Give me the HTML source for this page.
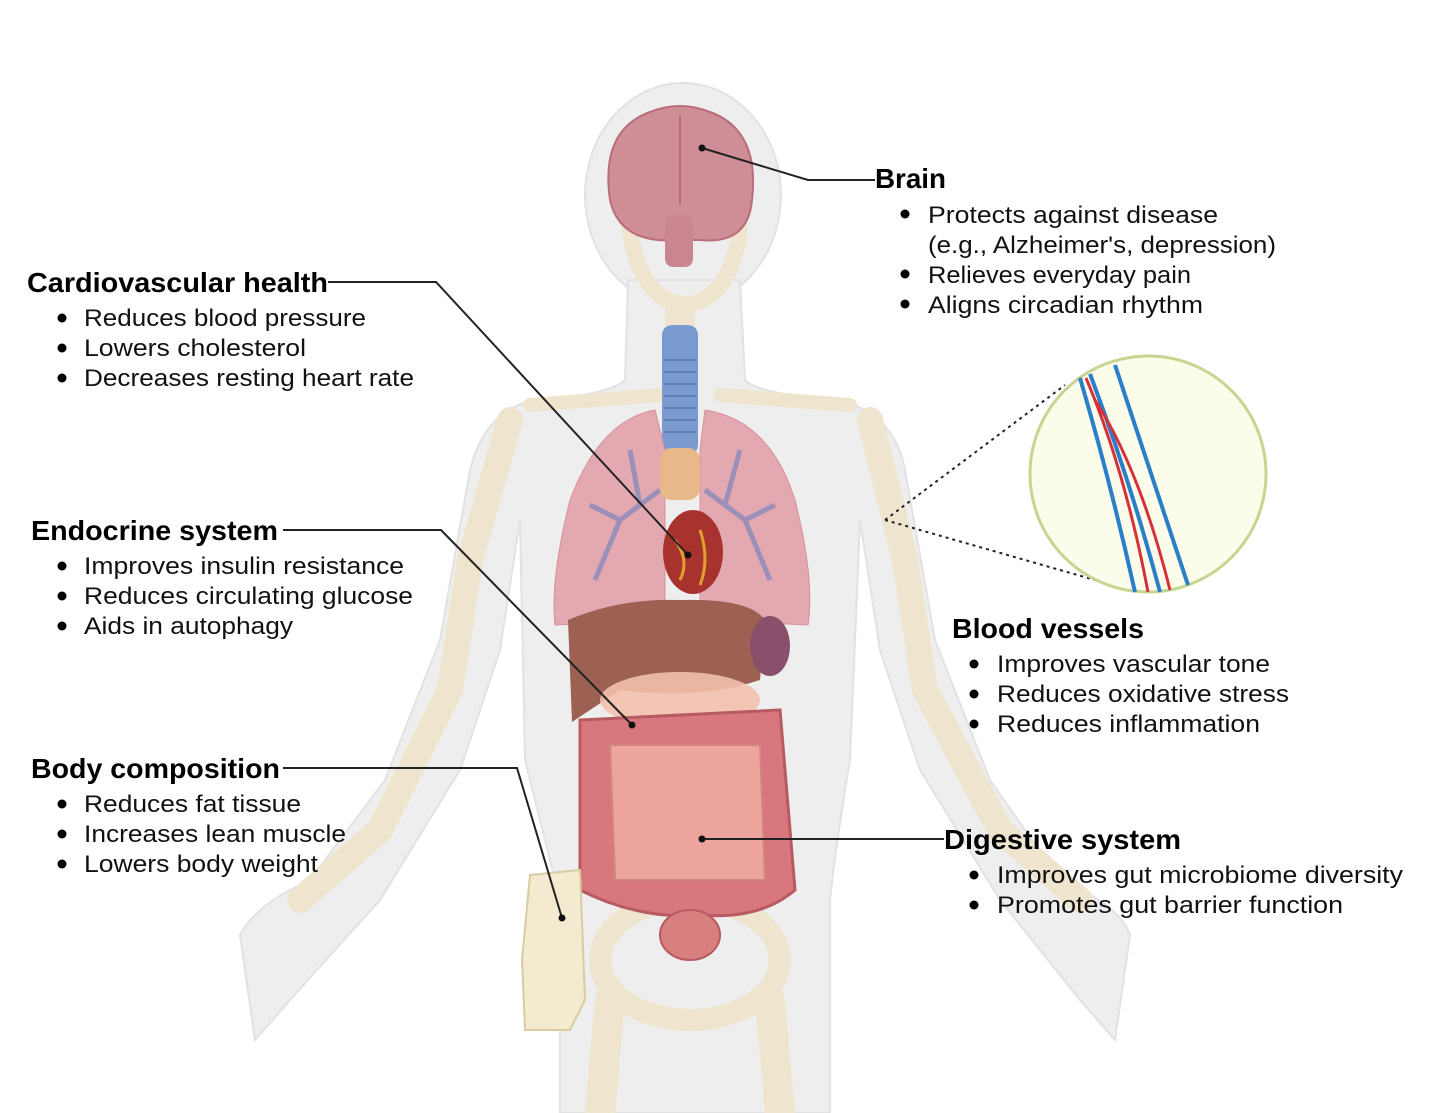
<!DOCTYPE html>
<html><head><meta charset="utf-8"><style>
body{margin:0;background:#fff;}
svg{display:block;}
.h{font:bold 28px "Liberation Sans",sans-serif;fill:#000;}
.t{font:24px "Liberation Sans",sans-serif;fill:#111;}
</style></head><body>
<svg width="1430" height="1113" viewBox="0 0 1430 1113" xmlns="http://www.w3.org/2000/svg">
<g fill="#eeeeee" stroke="#e2e2e2" stroke-width="2">
<ellipse cx="683" cy="195" rx="98" ry="112"/>
<path d="M628 280 L740 280 L745 380 Q760 395 840 400 Q895 415 905 470 L935 640 L990 780 L1060 880 Q1120 905 1130 935 L1115 1040 L1080 1000 L1000 900 L920 770 L880 650 L860 520 L850 760 Q835 850 830 900 L830 1113 L560 1113 L560 900 Q540 820 525 760 L520 520 L500 650 L460 770 L380 900 L290 1000 L255 1040 L240 935 Q255 905 310 880 L385 780 L440 640 L470 470 Q485 410 535 400 Q610 395 625 380 Z"/>
</g>
<g stroke="#efe5cf" stroke-linecap="round" fill="none">
<path d="M510 420 L470 560 L450 690 L380 830 L300 900" stroke-width="26"/>
<path d="M870 420 L905 560 L925 690 L1000 830 L1080 900" stroke-width="26"/>
<path d="M530 405 L660 395 M720 395 L850 405" stroke-width="14"/>
<path d="M610 1000 L600 1113 M770 1000 L780 1113" stroke-width="30"/>
<ellipse cx="690" cy="960" rx="90" ry="60" stroke-width="22"/>
<path d="M630 230 Q640 300 685 305 Q730 300 740 230" stroke-width="16"/>
<path d="M680 310 L680 470" stroke-width="30"/>
</g>
<path d="M610 200 Q600 130 650 112 Q680 100 710 112 Q760 130 752 200 Q748 245 700 240 L680 240 Q620 245 610 200 Z" fill="#cf8d96" stroke="#b86e7a" stroke-width="2"/>
<path d="M680 115 L680 205" stroke="#b86e7a" stroke-width="2"/>
<rect x="665" y="215" width="28" height="52" rx="8" fill="#c98690"/>
<rect x="662" y="325" width="36" height="130" rx="10" fill="#7b9bd0"/>
<g stroke="#5e7fb5" stroke-width="2"><path d="M664 360h32M664 372h32M664 384h32M664 396h32M664 408h32M664 420h32M664 432h32"/></g>
<path d="M655 410 Q600 420 570 500 Q550 580 555 625 L665 620 L665 450 Z" fill="#e4a8b0" stroke="#d4909a"/>
<path d="M705 410 Q770 420 795 500 Q815 580 808 625 L700 620 L700 450 Z" fill="#e4a8b0" stroke="#d4909a"/>
<g stroke="#9c90b8" stroke-width="5" fill="none"><path d="M660 490 L620 520 L595 580 M620 520 L590 505 M640 505 L630 450"/><path d="M705 490 L745 520 L770 580 M745 520 L775 505 M725 505 L740 450"/></g>
<rect x="660" y="448" width="40" height="52" rx="12" fill="#e8b888"/>
<ellipse cx="693" cy="552" rx="30" ry="42" fill="#a8332e"/>
<path d="M675 540 Q690 560 680 580 M700 530 Q710 560 700 585" stroke="#e0a030" stroke-width="3" fill="none"/>
<path d="M568 620 Q620 598 680 600 Q750 598 765 620 L760 680 Q700 700 620 690 L572 722 Z" fill="#9c6153"/>
<ellipse cx="770" cy="646" rx="20" ry="30" fill="#8a4f6a"/>
<ellipse cx="680" cy="700" rx="80" ry="28" fill="#f2c0ad" opacity=".9"/>
<path d="M620 720 Q660 745 720 735" stroke="#f0c040" stroke-width="14" fill="none"/>
<path d="M580 720 L780 710 L795 890 Q760 920 700 915 Q640 920 580 890 Z" fill="#d8777e" stroke="#b85a62" stroke-width="3"/>
<path d="M610 745 L760 745 L765 880 L615 880 Z" fill="#eca49c" stroke="#d28580" stroke-width="2"/>
<ellipse cx="690" cy="935" rx="30" ry="25" fill="#d88080" stroke="#b85a62" stroke-width="2"/>
<path d="M530 875 L580 870 L585 1000 L570 1030 L525 1030 L522 960 Z" fill="#f3ead0" stroke="#d8cca0" stroke-width="2"/>
<path d="M885 520 L1065 385 M885 520 L1130 590" stroke="#222" stroke-width="2" stroke-dasharray="3,4" fill="none"/>
<circle cx="1148" cy="474" r="118" fill="#fbfce9" stroke="#c6d590" stroke-width="3"/>
<g fill="none" stroke-width="4">
<path d="M1080 378 Q1110 480 1135 592" stroke="#2a7fc8"/>
<path d="M1090 374 Q1130 480 1160 592" stroke="#2a7fc8"/>
<path d="M1115 365 Q1150 470 1188 585" stroke="#2a7fc8"/>
<path d="M1086 378 Q1125 470 1148 592" stroke="#d8303a" stroke-width="3"/>
<path d="M1095 400 Q1140 470 1170 590" stroke="#d8303a" stroke-width="3"/>
</g>
<g stroke="#222" stroke-width="2" fill="none">
<path d="M702 148 L808 180 L875 180"/>
<path d="M328 282 L436 282 L688 555"/>
<path d="M283 530 L441 530 L632 725"/>
<path d="M283 768 L517 768 L562 918"/>
<path d="M702 839 L944 839"/>
</g>
<g fill="#111"><circle cx="702" cy="148" r="3.5"/><circle cx="688" cy="555" r="3.5"/><circle cx="632" cy="725" r="3.5"/><circle cx="562" cy="918" r="3.5"/><circle cx="702" cy="839" r="3.5"/></g>
<g fill="#000">
<circle cx="905" cy="214" r="4.5"/><circle cx="905" cy="274" r="4.5"/><circle cx="905" cy="304" r="4.5"/>
<circle cx="62" cy="318" r="4.5"/><circle cx="62" cy="348" r="4.5"/><circle cx="62" cy="378" r="4.5"/>
<circle cx="62" cy="566" r="4.5"/><circle cx="62" cy="596" r="4.5"/><circle cx="62" cy="626" r="4.5"/>
<circle cx="62" cy="804" r="4.5"/><circle cx="62" cy="834" r="4.5"/><circle cx="62" cy="864" r="4.5"/>
<circle cx="974" cy="664" r="4.5"/><circle cx="974" cy="694" r="4.5"/><circle cx="974" cy="724" r="4.5"/>
<circle cx="974" cy="875" r="4.5"/><circle cx="974" cy="905" r="4.5"/>
</g>
<g lengthAdjust="spacingAndGlyphs">
<text class="h" x="875" y="188" textLength="71" lengthAdjust="spacingAndGlyphs">Brain</text>
<g class="t">
<text x="928" y="223" textLength="290" lengthAdjust="spacingAndGlyphs">Protects against disease</text>
<text x="928" y="253" textLength="348" lengthAdjust="spacingAndGlyphs">(e.g., Alzheimer's, depression)</text>
<text x="928" y="283" textLength="263" lengthAdjust="spacingAndGlyphs">Relieves everyday pain</text>
<text x="928" y="313" textLength="275" lengthAdjust="spacingAndGlyphs">Aligns circadian rhythm</text></g>

<text class="h" x="27" y="292" textLength="301" lengthAdjust="spacingAndGlyphs">Cardiovascular health</text>
<g class="t">
<text x="84" y="326" textLength="282" lengthAdjust="spacingAndGlyphs">Reduces blood pressure</text>
<text x="84" y="356" textLength="222" lengthAdjust="spacingAndGlyphs">Lowers cholesterol</text>
<text x="84" y="386" textLength="330" lengthAdjust="spacingAndGlyphs">Decreases resting heart rate</text></g>

<text class="h" x="31" y="540" textLength="247" lengthAdjust="spacingAndGlyphs">Endocrine system</text>
<g class="t">
<text x="84" y="574" textLength="320" lengthAdjust="spacingAndGlyphs">Improves insulin resistance</text>
<text x="84" y="604" textLength="329" lengthAdjust="spacingAndGlyphs">Reduces circulating glucose</text>
<text x="84" y="634" textLength="209" lengthAdjust="spacingAndGlyphs">Aids in autophagy</text></g>

<text class="h" x="31" y="778" textLength="249" lengthAdjust="spacingAndGlyphs">Body composition</text>
<g class="t">
<text x="84" y="812" textLength="217" lengthAdjust="spacingAndGlyphs">Reduces fat tissue</text>
<text x="84" y="842" textLength="262" lengthAdjust="spacingAndGlyphs">Increases lean muscle</text>
<text x="84" y="872" textLength="234" lengthAdjust="spacingAndGlyphs">Lowers body weight</text></g>

<text class="h" x="952" y="638" textLength="192" lengthAdjust="spacingAndGlyphs">Blood vessels</text>
<g class="t">
<text x="997" y="672" textLength="273" lengthAdjust="spacingAndGlyphs">Improves vascular tone</text>
<text x="997" y="702" textLength="292" lengthAdjust="spacingAndGlyphs">Reduces oxidative stress</text>
<text x="997" y="732" textLength="263" lengthAdjust="spacingAndGlyphs">Reduces inflammation</text></g>

<text class="h" x="944" y="849" textLength="237" lengthAdjust="spacingAndGlyphs">Digestive system</text>
<g class="t">
<text x="997" y="883" textLength="406" lengthAdjust="spacingAndGlyphs">Improves gut microbiome diversity</text>
<text x="997" y="913" textLength="346" lengthAdjust="spacingAndGlyphs">Promotes gut barrier function</text></g>
</g>
</svg>
</body></html>
